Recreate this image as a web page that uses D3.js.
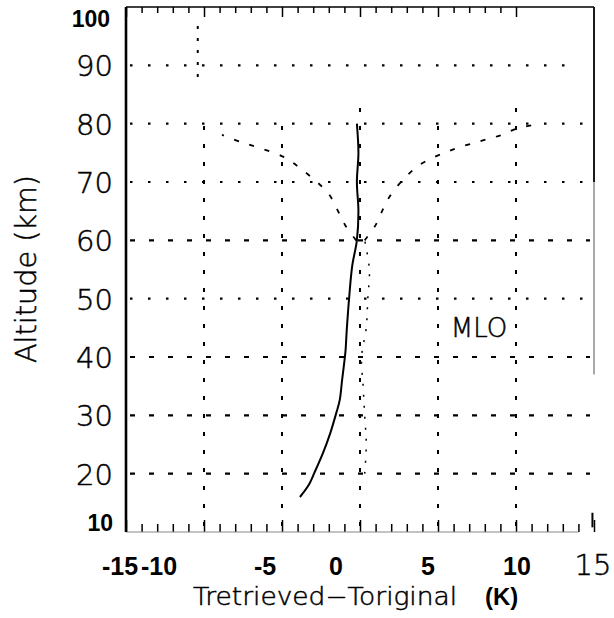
<!DOCTYPE html>
<html>
<head>
<meta charset="utf-8">
<script src="https://cdn.jsdelivr.net/npm/d3@7"></script>
<style>
  body { margin: 0; background: #fff; }
  svg { display: block; }
  .lbl { font-family: "Liberation Sans", Arial, sans-serif; fill: #000; }
  .thin { font-family: "DejaVu Sans", sans-serif; font-weight: 200; fill: #000; stroke: #000; stroke-width: 0.5; }
</style>
</head>
<body>
<svg id="chart" width="614" height="618"></svg>
<script>
// retrieved minus original temperature profile (solid line)
const profileAlt  = [16, 18, 20.3, 23.7, 27, 30.6, 32.6, 36, 38.6, 41, 44.6, 50, 55.6, 60, 65, 70, 75, 80];
const profileDiff = [-3.85, -3.3, -2.9, -2.35, -1.9, -1.5, -1.3, -1.15, -1.03, -0.93, -0.85, -0.7, -0.5, -0.2, -0.1, -0.2, -0.1, -0.2];

// faint dotted profile to the right of the solid one
const dottedAlt  = [20, 25, 30, 35, 40, 45, 50, 55, 60];
const dottedDiff = [0.3, 0.4, 0.3, 0.2, 0.1, 0.4, 0.5, 0.6, 0.3];

// dashed error envelope above 60 km
const envLeftAlt   = [60, 62.6, 65.5, 68.1, 72.4, 74.3, 75.8, 76.9, 78.1];
const envLeftDiff  = [-0.25, -0.95, -1.5, -2.05, -3.85, -4.9, -6.4, -7.7, -8.85];
const envRightAlt  = [60, 62.6, 65.5, 68.1, 72.7, 75.5, 77.0, 78.0, 79.2, 79.9];
const envRightDiff = [0.3, 1.0, 1.5, 2.05, 3.7, 5.9, 7.7, 9.0, 10.1, 11.35];

// grid lines
const gridAlts   = [20, 30, 40, 50, 60, 70, 80, 90];
const dashedAlts = [20, 30, 40, 60];
const gridDiffs  = [-10, -5, 0, 5, 10];
const gridTopAlt = [80, 80, 83, 80, 83];

// tick labels
const yTickVals = [10, 20, 30, 40, 50, 60, 70, 80, 90, 100];
const xTickVals = [-15, -10, -5, 0, 5, 10, 15];
const xTickText = ["-15", "-10", "-5", "0", "5", "10", "15"];

const svg = d3.select('#chart');
const x = d3.scaleLinear().domain([-15, 15]).range([126, 594]);
const y = d3.scaleLinear().domain([10, 100]).range([532, 7]);

// horizontal grid
svg.append('g').selectAll('line')
  .data(gridAlts)
  .enter().append('line')
  .attr('x1', x(-15) + 4)
  .attr('x2', d => d === 90 ? x(13.2) : x(15) - 4)
  .attr('y1', d => y(d))
  .attr('y2', d => y(d))
  .attr('stroke', '#000')
  .attr('stroke-width', 2.2)
  .attr('stroke-dasharray', d => dashedAlts.includes(d) ? '5,14' : '2.5,15.5');

// vertical grid
svg.append('g').selectAll('line')
  .data(gridDiffs)
  .enter().append('line')
  .attr('x1', d => x(d))
  .attr('x2', d => x(d))
  .attr('y1', y(10) - 6)
  .attr('y2', (d, i) => y(gridTopAlt[i]))
  .attr('stroke', '#000')
  .attr('stroke-width', 2)
  .attr('stroke-dasharray', '4,14');

// short dotted stub near the top at -10
svg.append('line')
  .attr('x1', x(-10.4)).attr('x2', x(-10.4))
  .attr('y1', y(88)).attr('y2', y(97))
  .attr('stroke', '#000').attr('stroke-width', 2)
  .attr('stroke-dasharray', '3,9');

// bottom axis (ticks pointing up)
const xBottom = svg.append('g')
  .attr('transform', `translate(0,${y(10)})`)
  .call(d3.axisBottom(x).tickValues(d3.range(-15, 16)).tickSize(0).tickFormat(''));
xBottom.select('.domain').remove();
xBottom.append('line')
  .attr('x1', x(-15)).attr('x2', x(14))
  .attr('stroke', '#888').attr('stroke-width', 1.2);
xBottom.selectAll('.tick line')
  .attr('y2', d => d % 5 === 0 ? -12 : -8)
  .attr('stroke', '#000')
  .attr('stroke-width', 1.5);

// top axis (ticks pointing down)
const xTop = svg.append('g')
  .attr('transform', `translate(0,${y(100)})`)
  .call(d3.axisTop(x).tickValues(d3.range(-15, 11)).tickSize(0).tickFormat(''));
xTop.select('.domain').remove();
xTop.append('line')
  .attr('x1', x(-15)).attr('x2', x(15))
  .attr('stroke', '#000').attr('stroke-width', 1.4);
xTop.selectAll('.tick line')
  .attr('y2', d => d % 5 === 0 ? 10 : 6)
  .attr('stroke', '#000')
  .attr('stroke-width', 1.5);

// left and right borders
svg.append('line')
  .attr('x1', x(-15)).attr('x2', x(-15))
  .attr('y1', y(100)).attr('y2', y(10))
  .attr('stroke', '#000').attr('stroke-width', 2.6);
svg.append('line')
  .attr('x1', x(15)).attr('x2', x(15))
  .attr('y1', y(100)).attr('y2', y(70))
  .attr('stroke', '#000').attr('stroke-width', 1.8);
svg.append('line')
  .attr('x1', x(15)).attr('x2', x(15))
  .attr('y1', y(70)).attr('y2', y(37))
  .attr('stroke', '#555').attr('stroke-width', 1);
svg.append('line')
  .attr('x1', x(14.9)).attr('x2', x(14.9))
  .attr('y1', y(13.3)).attr('y2', y(10.8))
  .attr('stroke', '#000').attr('stroke-width', 2);

const line = d3.line().x(d => x(d[0])).y(d => y(d[1])).curve(d3.curveCatmullRom);

// envelope
[[envLeftDiff, envLeftAlt], [envRightDiff, envRightAlt]].forEach(([dx, da]) => {
  svg.append('path')
    .datum(dx.map((v, i) => [v, da[i]]))
    .attr('d', line)
    .attr('fill', 'none')
    .attr('stroke', '#000')
    .attr('stroke-width', 1.8)
    .attr('stroke-dasharray', '5,11');
});

// dotted profile
svg.append('path')
  .datum(dottedDiff.map((v, i) => [v, dottedAlt[i]]))
  .attr('d', line)
  .attr('fill', 'none')
  .attr('stroke', '#000')
  .attr('stroke-width', 1.5)
  .attr('stroke-dasharray', '2,9');

// main profile
svg.append('path')
  .datum(profileDiff.map((v, i) => [v, profileAlt[i]]))
  .attr('d', line)
  .attr('fill', 'none')
  .attr('stroke', '#000')
  .attr('stroke-width', 2);

// y tick labels
const yAxis = svg.append('g')
  .attr('transform', `translate(113,0)`)
  .call(d3.axisLeft(y).tickValues(yTickVals).tickSize(0).tickPadding(0));
yAxis.select('.domain').remove();
yAxis.selectAll('.tick text')
  .attr('class', d => (d === 10 || d === 100) ? 'lbl' : 'thin')
  .attr('fill', '#000')
  .style('font-size', d => (d === 10 || d === 100) ? '23px' : '29px')
  .style('font-weight', d => (d === 10 || d === 100) ? 'bold' : null)
  .attr('dy', d => d === 100 ? '0.85em' : d === 10 ? '-0.05em' : '0.36em')
  .attr('x', d => d === 100 ? -3 : 0);

// x tick labels (positions shifted as in the scanned figure)
const xLabelShift = { '-15': -6, '-10': -45, '-5': -17, '0': -24, '5': -10, '10': 1, '15': -1 };
svg.append('g').selectAll('text')
  .data(xTickVals)
  .enter().append('text')
  .attr('class', d => d === 15 ? 'thin' : 'lbl')
  .attr('x', d => x(d) + xLabelShift[d])
  .attr('y', 575)
  .attr('text-anchor', 'middle')
  .style('font-size', d => d === 15 ? '29px' : '25px')
  .style('font-weight', d => d === 15 ? null : 'bold')
  .text((d, i) => xTickText[i]);

// annotation
svg.append('text')
  .attr('class', 'thin')
  .attr('x', 479).attr('y', 337)
  .attr('text-anchor', 'middle')
  .style('font-size', '26px')
  .text('MLO');

// axis titles
const xt = svg.append('text')
  .attr('class', 'thin')
  .attr('x', 193).attr('y', 605)
  .style('font-size', '24px');
xt.append('tspan').text('Tretrieved\u2212Toriginal')
  .attr('textLength', 264).attr('lengthAdjust', 'spacingAndGlyphs');
xt.append('tspan').attr('dx', 28)
  .style('font-family', '"Liberation Sans", Arial, sans-serif')
  .style('stroke', 'none')
  .style('font-weight', 'bold').text('(K)');

svg.append('text')
  .attr('class', 'thin')
  .attr('transform', `translate(36,269) rotate(-90)`)
  .attr('text-anchor', 'middle')
  .style('font-size', '28px')
  .attr('textLength', 188)
  .attr('lengthAdjust', 'spacingAndGlyphs')
  .text('Altitude (km)');
</script>
</body>
</html>
